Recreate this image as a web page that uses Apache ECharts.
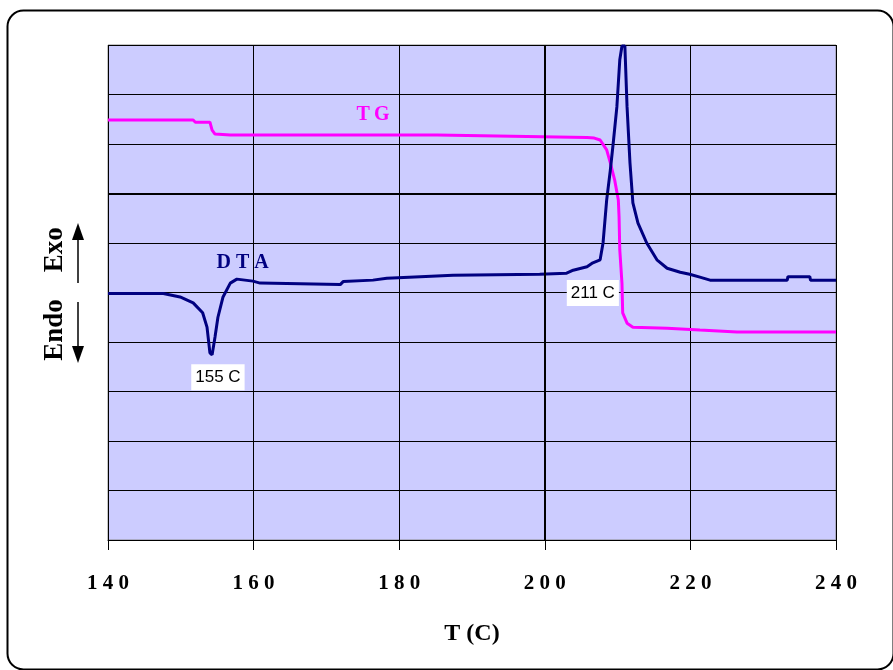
<!DOCTYPE html>
<html>
<head>
<meta charset="utf-8">
<script src="https://cdn.jsdelivr.net/npm/echarts@6/dist/echarts.min.js"></script>
<style>
html,body{margin:0;padding:0;background:#fff;}
#chart{width:893px;height:670px;}
</style>
</head>
<body>
<div id="chart"></div>
<script>
// Temperature ticks
var xTicks = [140, 160, 180, 200, 220, 240];

// TG curve: [T, signal]
var tgData = [
  [140, 8.485], [151.7, 8.485], [152.0, 8.44], [154.0, 8.44], [154.3, 8.28], [154.7, 8.20],
  [156.8, 8.18], [160.9, 8.18], [185.2, 8.18], [185.3, 8.14], [205.8, 8.13], [206.8, 8.12],
  [207.6, 8.08], [208.5, 7.88], [209.0, 7.62], [209.6, 7.27], [210.1, 6.87], [210.2, 6.53],
  [210.3, 5.86], [210.6, 5.19], [210.7, 4.59], [211.3, 4.38], [212.1, 4.30], [216.8, 4.28],
  [221.3, 4.24], [226.4, 4.20], [240, 4.20]
];

// DTA curve: [T, signal]
var dtaData = [
  [140, 4.98], [147.6, 4.98], [149.9, 4.91], [151.7, 4.79], [153.0, 4.59], [153.6, 4.30],
  [154.0, 3.78], [154.3, 3.74], [154.7, 4.10], [155.1, 4.50], [155.8, 4.91], [156.8, 5.19],
  [157.7, 5.27], [159.9, 5.23], [160.9, 5.19], [171.9, 5.16], [172.3, 5.22], [176.4, 5.25],
  [178.3, 5.29], [182.9, 5.32], [187.4, 5.35], [199.3, 5.37], [203.0, 5.39], [203.9, 5.45],
  [205.8, 5.52], [206.6, 5.60], [207.6, 5.66], [208.0, 6.0], [208.5, 6.87], [209.0, 7.47],
  [209.4, 8.02], [209.9, 8.75], [210.3, 9.70], [210.6, 9.98], [211.0, 9.98], [211.3, 8.75],
  [211.7, 7.62], [212.1, 6.81], [212.8, 6.40], [214.0, 6.0], [215.4, 5.66], [216.8, 5.49],
  [218.6, 5.41], [219.9, 5.37], [221.3, 5.31], [222.7, 5.25], [233.3, 5.25], [233.4, 5.32],
  [236.4, 5.32], [236.5, 5.25], [240, 5.25]
];

// Heavier grid lines
var boldX = [200];
var boldY = [7];

// Annotation positions (data coordinates)
var peakLabels = [
  { text: '155 C', coord: [155.1, 3.29] },
  { text: '211 C', coord: [206.6, 4.99] }
];
var seriesNames = [
  { text: 'T\u2009G', coord: [176.4, 8.59], color: '#FF00FF' },
  { text: 'D T A', coord: [158.5, 5.60], color: '#000080' }
];

var chart = echarts.init(document.getElementById('chart'));

var peakLabelStyle = function (t) {
  return { show: true, position: 'inside', fontFamily: 'Liberation Sans', fontSize: 17, color: '#000',
    backgroundColor: '#fff', padding: [5, 4, 4, 4], formatter: t };
};
var nameLabelStyle = function (o) {
  return { show: true, position: 'inside', fontFamily: 'Liberation Serif', fontWeight: 'bold', fontSize: 20,
    color: o.color, formatter: o.text };
};

chart.setOption({
  animation: false,
  backgroundColor: '#ffffff',
  grid: {
    left: 108, top: 45, width: 728, height: 495,
    show: true, backgroundColor: '#CCCCFF', borderColor: '#8a8a8a', borderWidth: 1
  },
  xAxis: {
    type: 'value', min: 140, max: 240, interval: 20,
    name: 'T (C)', nameLocation: 'middle', nameGap: 82,
    nameTextStyle: { fontFamily: 'Liberation Serif', fontWeight: 'bold', fontSize: 24, color: '#000' },
    axisLine: { show: true, lineStyle: { color: '#000', width: 1 } },
    axisTick: { show: true, inside: false, length: 10, lineStyle: { color: '#000' } },
    axisLabel: {
      margin: 33, fontFamily: 'Liberation Serif', fontWeight: 'bold', fontSize: 21, color: '#000',
      formatter: function (v) { return String(v).split('').join(' '); }
    },
    splitLine: { show: true, lineStyle: { color: '#000', width: 1 } }
  },
  yAxis: {
    type: 'value', min: 0, max: 10, interval: 1,
    axisLine: { show: false }, axisTick: { show: false }, axisLabel: { show: false },
    splitLine: { show: true, lineStyle: { color: '#000', width: 1 } }
  },
  series: [
    {
      type: 'line', name: 'grid', data: [], silent: true,
      markLine: {
        silent: true, symbol: 'none', label: { show: false },
        lineStyle: { color: '#000', width: 2, type: 'solid' },
        data: boldX.map(function (v) { return { xAxis: v }; }).concat(boldY.map(function (v) { return { yAxis: v }; }))
      },
      z: 1
    },
    {
      type: 'line', name: 'TG', data: tgData, showSymbol: false, symbol: 'none',
      lineStyle: { color: '#FF00FF', width: 3 }, z: 3,
      markPoint: {
        symbol: 'rect', symbolSize: 0,
        data: [{ coord: seriesNames[0].coord, label: nameLabelStyle(seriesNames[0]) }]
      }
    },
    {
      type: 'line', name: 'DTA', data: dtaData, showSymbol: false, symbol: 'none',
      lineStyle: { color: '#000080', width: 3 }, z: 4,
      markPoint: {
        symbol: 'rect', symbolSize: 0,
        data: [
          { coord: seriesNames[1].coord, label: nameLabelStyle(seriesNames[1]) },
          { coord: peakLabels[0].coord, label: peakLabelStyle(peakLabels[0].text) },
          { coord: peakLabels[1].coord, label: peakLabelStyle(peakLabels[1].text) }
        ]
      }
    }
  ],
  graphic: [
    {
      type: 'rect', left: 5, top: 8, z: -1, silent: true,
      shape: { width: 886, height: 659, r: 16 },
      style: { fill: 'none', stroke: '#000', lineWidth: 2 }
    },
    {
      type: 'text', x: 55, y: 294, rotation: Math.PI / 2, silent: true,
      style: { text: 'Endo    Exo', fontFamily: 'Liberation Serif', fontWeight: 'bold', fontSize: 27, fill: '#000', align: 'center', verticalAlign: 'middle' }
    },
    { type: 'line', silent: true, shape: { x1: 78, y1: 283, x2: 78, y2: 238 }, style: { stroke: '#000', lineWidth: 1.5 } },
    { type: 'polygon', silent: true, shape: { points: [[72, 240], [84, 240], [78, 223]] }, style: { fill: '#000' } },
    { type: 'line', silent: true, shape: { x1: 78, y1: 302, x2: 78, y2: 348 }, style: { stroke: '#000', lineWidth: 1.5 } },
    { type: 'polygon', silent: true, shape: { points: [[72, 346], [84, 346], [78, 363]] }, style: { fill: '#000' } }
  ]
});
</script>
</body>
</html>
